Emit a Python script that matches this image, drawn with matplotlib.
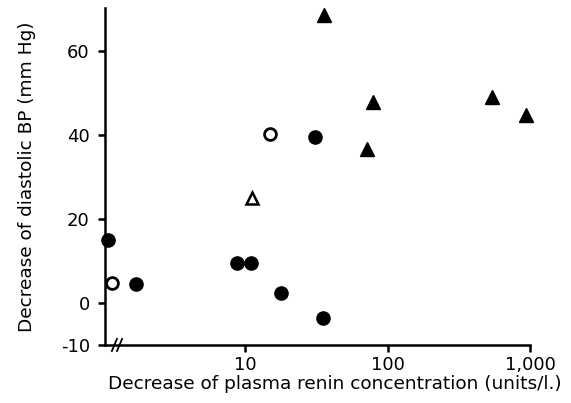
import numpy as np
import matplotlib.pyplot as plt

# decrease of renin (units/l.) vs decrease of diastolic BP (mm Hg)
filled_circle_x = [1.09, 1.72, 8.8, 11.0, 17.9, 31.0, 35.0]
filled_circle_y = [15, 4.5, 9.5, 9.5, 2.4, 39.5, -3.6]
open_circle_x = [1.17, 15.0]
open_circle_y = [4.8, 40.2]
filled_tri_x = [35.8, 71.0, 79.0, 537.0, 935.0]
filled_tri_y = [68.5, 36.7, 47.8, 49.0, 44.8]
open_tri_x = [11.2]
open_tri_y = [25]

xticks = [10, 100, 1000]
xticklabels = ['10', '100', '1,000']
yticks = [-10, 0, 20, 40, 60]
yticklabels = ['-10', '0', '20', '40', '60']

fig = plt.figure(figsize=(5.71, 4.03), dpi=100)
ax = fig.add_axes([0.184, 0.144, 0.745, 0.836])

ax.plot(filled_circle_x, filled_circle_y, 'o', color='black', markersize=9.5, clip_on=False)
ax.plot(open_circle_x, open_circle_y, 'o', mfc='white', mec='black', mew=2, markersize=8.5, clip_on=False)
ax.plot(filled_tri_x, filled_tri_y, '^', color='black', markersize=10, clip_on=False)
ax.plot(open_tri_x, open_tri_y, '^', mfc='white', mec='black', mew=1.8, markersize=8.5, clip_on=False)

ax.set_xscale('log')
ax.set_xlim(1.04, 1000)
ax.set_ylim(-10, 70.2)
ax.set_xticks(xticks)
ax.set_xticklabels(xticklabels)
ax.xaxis.set_minor_locator(plt.NullLocator())
ax.set_yticks(yticks)
ax.set_yticklabels(yticklabels)

for s in ['top', 'right']:
    ax.spines[s].set_visible(False)
for s in ['left', 'bottom']:
    ax.spines[s].set_linewidth(1.8)
ax.tick_params(width=1.8, length=5, labelsize=13)
ax.tick_params(axis='x', pad=3)
ax.tick_params(axis='y', pad=6)

# axis break marks
for dx in [0.022, 0.034]:
    ax.plot([dx - 0.006, dx + 0.006], [-0.018, 0.018], color='black', lw=1.3,
            transform=ax.transAxes, clip_on=False)

xl = ax.set_xlabel('Decrease of plasma renin concentration (units/l.)', fontsize=13.3, labelpad=1)
xl.set_x(0.54)
ax.set_ylabel('Decrease of diastolic BP (mm Hg)', fontsize=13.3, labelpad=18)

fig.savefig('out.png', dpi=100)
